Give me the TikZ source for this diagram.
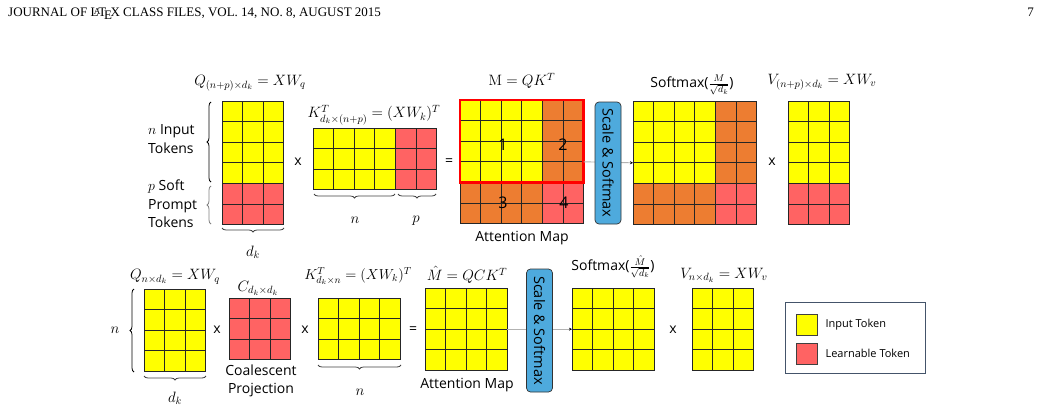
\documentclass[tikz,border=0pt]{standalone}
\usepackage{fix-cm}
\usepackage[no-math]{fontspec}
\setmainfont{Liberation Serif}
\setsansfont{Open Sans}
\usetikzlibrary{positioning, arrows.meta, decorations.pathreplacing}

\definecolor{tokyel}{HTML}{FFFF00}
\definecolor{tokred}{HTML}{FF6363}
\definecolor{tokora}{HTML}{ED7D31}
\definecolor{softblue}{HTML}{4EAADD}
\definecolor{legline}{HTML}{44546A}

% セル一つの大きさ (pt)
\newcommand{\cellsz}{20.6}
% 行列のセルを塗る: ノード名, 列, 行, 色
\newcommand{\tokcells}[4]{%
  \foreach \c in {#2}{\foreach \r in {#3}{%
    \draw[cell, fill=#4] ([shift={(\c*\cellsz,\r*\cellsz)}]#1.north west) rectangle ++(\cellsz,\cellsz);}}}

\begin{document}
\begin{tikzpicture}[
      x=1pt, y=-1pt,
      % セルと行列の基本スタイル
      cell/.style={draw=black!85, line width=0.7pt},
      grid/.style={inner sep=0, outer sep=0, anchor=north west},
      % 文字のスタイル
      lbl/.style={font=\fontsize{15}{17}\selectfont, inner sep=0.5pt},
      txt/.style={font=\sffamily\fontsize{14}{18.5}\selectfont, inner sep=1pt},
      num/.style={font=\sffamily\fontsize{16}{18}\selectfont, inner sep=1pt},
      legtxt/.style={font=\sffamily\fontsize{11}{13}\selectfont, inner sep=0},
      % Scale & Softmax の箱
      scalebox/.style={draw=black!80, fill=softblue, rounded corners=4pt, line width=0.7pt,
        rotate=-90, minimum height=26pt, inner sep=0, font=\sffamily\fontsize{14.5}{16}\selectfont},
      % 矢印と括弧
      flow/.style={draw=black!30, line width=0.9pt, -{Stealth[length=3pt, width=3pt, black]}},
      brc/.style={decorate, decoration={brace, amplitude=4pt}, line width=0.8pt},
      legsq/.style={draw=black!75, line width=0.8pt, minimum size=21pt, inner sep=0}
    ]
    \useasboundingbox (0,0) rectangle (1041,412);

    % --- ヘッダ ---
    \node[anchor=base west, font=\fontsize{13}{15}\selectfont, inner sep=0] (head) at (8,17)
      {JOURNAL OF \LaTeX\ CLASS FILES, VOL. 14, NO. 8, AUGUST 2015};
    \node[anchor=base east, font=\fontsize{13}{15}\selectfont, inner sep=0] (pgno) at (1034,17) {7};

    % --- 上段：ソフトプロンプト ---
    \node[grid, minimum width=3*\cellsz, minimum height=6*\cellsz] (q1) at (222,101) {};
    \tokcells{q1}{0,...,2}{0,...,3}{tokyel}
    \tokcells{q1}{0,...,2}{4,5}{tokred}
    \node[lbl] (q1lab) at (250,83) {$Q_{(n+p)\times d_k} = XW_q$};

    \node[txt] (times1) at (298,162) {x};

    \node[grid, minimum width=6*\cellsz, minimum height=3*\cellsz] (k1) at (313,128) {};
    \tokcells{k1}{0,...,3}{0,...,2}{tokyel}
    \tokcells{k1}{4,5}{0,...,2}{tokred}
    \node[lbl] (k1lab) at (374,115) {$K^T_{d_k\times(n+p)} = (XW_k)^T$};

    \node[txt] (eq1) at (449,162) {=};

    \node[grid, minimum width=6*\cellsz, minimum height=6*\cellsz] (attn1) at (460,100) {};
    \tokcells{attn1}{0,...,3}{0,...,3}{tokyel}
    \tokcells{attn1}{4,5}{0,...,3}{tokora}
    \tokcells{attn1}{0,...,3}{4,5}{tokora}
    \tokcells{attn1}{4,5}{4,5}{tokred}
    \draw[red, line width=2.6pt] (attn1.north west) rectangle ([shift={(6*\cellsz,4*\cellsz)}]attn1.north west);
    \node[lbl] (attn1lab) at (522,81) {$\mathrm{M} = QK^T$};
    \node[num] (blk1) at (503,145) {1};
    \node[num] (blk2) at (563,145) {2};
    \node[num] (blk3) at (503,203) {3};
    \node[num] (blk4) at (564,203) {4};
    \node[txt] (map1) at (522,238) {Attention Map};

    \node[grid, minimum width=6*\cellsz, minimum height=6*\cellsz] (smax1) at (633,101) {};
    \tokcells{smax1}{0,...,3}{0,...,3}{tokyel}
    \tokcells{smax1}{4,5}{0,...,3}{tokora}
    \tokcells{smax1}{0,...,3}{4,5}{tokora}
    \tokcells{smax1}{4,5}{4,5}{tokred}
    \node[txt] (smax1lab) at (692,85) {Softmax($\frac{M}{\sqrt{d_k}}$)};

    \draw[flow] (attn1.east) -- (smax1.west);
    \node[scalebox, minimum width=122pt] (scale1) at (608,163) {Scale \& Softmax};

    \node[txt] (times2) at (772,162) {x};

    \node[grid, minimum width=3*\cellsz, minimum height=6*\cellsz] (v1) at (788,101) {};
    \tokcells{v1}{0,...,2}{0,...,3}{tokyel}
    \tokcells{v1}{0,...,2}{4,5}{tokred}
    \node[lbl] (v1lab) at (822,82) {$V_{(n+p)\times d_k} = XW_v$};

    % 上段の括弧
    \draw[brc] (211,182) -- (211,102);
    \draw[brc, gray] (211,224) -- (211,186);
    \node[txt, align=left, anchor=west] (ntok) at (147,139) {$n$ Input\\Tokens};
    \node[txt, align=left, anchor=west] (ptok) at (147,204) {$p$ Soft\\Prompt\\Tokens};
    \draw[brc, black!75] (284,228) -- (222,228);
    \node[lbl] (dk1) at (253,252) {$d_k$};
    \draw[brc, black!75] (395,194) -- (314,194);
    \draw[brc, black!75] (436,194) -- (398,194);
    \node[lbl] (n1) at (355,220) {$n$};
    \node[lbl] (p1) at (416,221) {$p$};

    % --- 下段：Coalescent Projection ---
    \node[grid, minimum width=3*\cellsz, minimum height=4*\cellsz] (q2) at (144,289) {};
    \tokcells{q2}{0,...,2}{0,...,3}{tokyel}
    \node[lbl] (q2lab) at (175,277) {$Q_{n\times d_k} = XW_q$};
    \draw[brc] (134,372) -- (134,289);
    \node[lbl] (n2) at (115,330) {$n$};
    \draw[brc, black!75] (206,376) -- (144,376);
    \node[lbl] (dk2) at (175,398) {$d_k$};

    \node[txt] (times3) at (217,330) {x};

    \node[grid, minimum width=3*\cellsz, minimum height=3*\cellsz] (c2) at (229,298) {};
    \tokcells{c2}{0,...,2}{0,...,2}{tokred}
    \node[lbl] (c2lab) at (258,288) {$C_{d_k\times d_k}$};
    \node[txt, align=center] (coal) at (261,381) {Coalescent\\Projection};

    \node[txt] (times4) at (305,330) {x};

    \node[grid, minimum width=4*\cellsz, minimum height=3*\cellsz] (k2) at (318,298) {};
    \tokcells{k2}{0,...,3}{0,...,2}{tokyel}
    \node[lbl, font=\fontsize{14.5}{17}\selectfont] (k2lab) at (358,276) {$K^T_{d_k\times n} = (XW_k)^T$};
    \draw[brc, black!75] (401,365) -- (318,365);
    \node[lbl] (n3) at (360,392) {$n$};

    \node[txt] (eq2) at (413,330) {=};

    \node[grid, minimum width=4*\cellsz, minimum height=4*\cellsz] (attn2) at (425,288) {};
    \tokcells{attn2}{0,...,3}{0,...,3}{tokyel}
    \node[lbl] (attn2lab) at (467,275) {$\hat{M} = QCK^T$};
    \node[txt] (map2) at (467,385) {Attention Map};

    \node[grid, minimum width=4*\cellsz, minimum height=4*\cellsz] (smax2) at (572,288) {};
    \tokcells{smax2}{0,...,3}{0,...,3}{tokyel}
    \node[txt] (smax2lab) at (613,267) {Softmax($\frac{\hat{M}}{\sqrt{d_k}}$)};

    \draw[flow] (attn2.east) -- (smax2.west);
    \node[scalebox, minimum width=123pt] (scale2) at (539.5,330.5) {Scale \& Softmax};

    \node[txt] (times5) at (673,330) {x};

    \node[grid, minimum width=3*\cellsz, minimum height=4*\cellsz] (v2) at (692,288) {};
    \tokcells{v2}{0,...,2}{0,...,3}{tokyel}
    \node[lbl] (v2lab) at (724,275) {$V_{n\times d_k} = XW_v$};

    % --- 凡例 ---
    \node[draw=legline, line width=0.8pt, minimum width=140pt, minimum height=71pt, anchor=north west, inner sep=0] (legend) at (785,302) {};
    \node[legsq, fill=tokyel] (legyel) at (806.5,324.5) {};
    \node[legsq, fill=tokred] (legred) at (806.5,353.5) {};
    \node[legtxt, right=8pt of legyel] (legyeltxt) {Input Token};
    \node[legtxt, right=8pt of legred] (legredtxt) {Learnable Token};

\end{tikzpicture}
\end{document}
